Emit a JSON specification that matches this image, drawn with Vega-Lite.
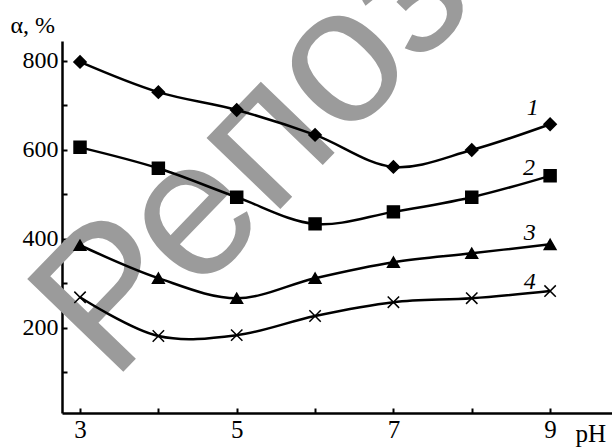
{
  "$schema": "https://vega.github.io/schema/vega-lite/v6.json",
  "width": 550,
  "height": 372,
  "autosize": {"type": "none"},
  "padding": {"left": 62, "top": 41, "right": 0, "bottom": 34},
  "background": "white",
  "config": {"view": {"stroke": null}, "font": "Liberation Serif"},
  "datasets": {
    "pts": [
      {"series": "1", "x": 3, "y": 797}, {"series": "1", "x": 4, "y": 729}, {"series": "1", "x": 5, "y": 689},
      {"series": "1", "x": 6, "y": 633}, {"series": "1", "x": 7, "y": 561}, {"series": "1", "x": 8, "y": 599},
      {"series": "1", "x": 9, "y": 657},
      {"series": "2", "x": 3, "y": 605}, {"series": "2", "x": 4, "y": 558}, {"series": "2", "x": 5, "y": 493},
      {"series": "2", "x": 6, "y": 433}, {"series": "2", "x": 7, "y": 460}, {"series": "2", "x": 8, "y": 493},
      {"series": "2", "x": 9, "y": 541},
      {"series": "3", "x": 3, "y": 385}, {"series": "3", "x": 4, "y": 311}, {"series": "3", "x": 5, "y": 266},
      {"series": "3", "x": 6, "y": 311}, {"series": "3", "x": 7, "y": 347}, {"series": "3", "x": 8, "y": 367},
      {"series": "3", "x": 9, "y": 387},
      {"series": "4", "x": 3, "y": 268}, {"series": "4", "x": 4, "y": 181}, {"series": "4", "x": 5, "y": 183},
      {"series": "4", "x": 6, "y": 226}, {"series": "4", "x": 7, "y": 257}, {"series": "4", "x": 8, "y": 266},
      {"series": "4", "x": 9, "y": 282}
    ],
    "labels": [
      {"lab": "1", "x": 8.78, "y": 693},
      {"lab": "2", "x": 8.73, "y": 558},
      {"lab": "3", "x": 8.74, "y": 412},
      {"lab": "4", "x": 8.74, "y": 302}
    ],
    "wm": [{"t": "Репозиторий", "x": 3.41, "y": 75}]
  },
  "encoding": {
    "x": {
      "field": "x", "type": "quantitative",
      "scale": {"domain": [2.77, 9.79], "nice": false, "zero": false},
      "axis": {
        "values": [3, 4, 5, 6, 7, 8, 9],
        "labelExpr": "datum.value % 2 == 1 ? datum.label : ''",
        "grid": false, "domainColor": "black", "domainWidth": 2.5,
        "tickColor": "black", "tickWidth": 2, "tickSize": -5,
        "labelFont": "Liberation Serif", "labelFontSize": 25, "labelColor": "black",
        "labelPadding": 9, "labelOverlap": false, "labelFlush": false,
        "title": "pH", "titleFont": "Liberation Serif", "titleFontSize": 25, "titleFontWeight": "normal",
        "titleColor": "black", "titleX": 513, "titleY": 28, "titleAlign": "left", "titleBaseline": "alphabetic"
      }
    },
    "y": {
      "field": "y", "type": "quantitative",
      "scale": {"domain": [8, 844], "nice": false, "zero": false},
      "axis": {
        "values": [100, 200, 300, 400, 500, 600, 700, 800],
        "labelExpr": "datum.value % 200 == 0 ? datum.label : ''",
        "grid": false, "domainColor": "black", "domainWidth": 2.5,
        "tickColor": "black", "tickWidth": 2, "tickSize": -5,
        "labelFont": "Liberation Serif", "labelFontSize": 24, "labelColor": "black",
        "labelPadding": 9, "labelOverlap": false,
        "title": "α, %", "titleFont": "Liberation Serif", "titleFontSize": 24, "titleFontWeight": "normal",
        "titleColor": "black", "titleAngle": 0, "titleX": -52, "titleY": -9, "titleAlign": "left", "titleBaseline": "alphabetic"
      }
    }
  },
  "layer": [
    {
      "data": {"name": "wm"},
      "mark": {"type": "text", "font": "Liberation Sans", "fontSize": 194, "angle": 314, "align": "left", "baseline": "alphabetic", "color": "#9b9b9b"},
      "encoding": {"text": {"field": "t"}}
    },
    {
      "data": {"name": "pts"},
      "mark": {"type": "line", "interpolate": "catmull-rom", "strokeWidth": 2.5, "color": "black"},
      "encoding": {"detail": {"field": "series"}}
    },
    {
      "data": {"name": "pts"},
      "mark": {"type": "point", "filled": true, "color": "black", "stroke": "black", "strokeWidth": 1.5, "opacity": 1},
      "encoding": {
        "shape": {"field": "series", "type": "nominal", "scale": {"domain": ["1", "2", "3", "4"], "range": ["diamond", "square", "triangle-up", "M-1,-1L1,1M-1,1L1,-1"]}, "legend": null},
        "size": {"field": "series", "type": "nominal", "scale": {"domain": ["1", "2", "3", "4"], "range": [150, 130, 150, 140]}, "legend": null}
      }
    },
    {
      "data": {"name": "labels"},
      "mark": {"type": "text", "font": "Liberation Serif", "fontStyle": "italic", "fontSize": 24, "baseline": "middle", "align": "center", "color": "black"},
      "encoding": {"text": {"field": "lab"}}
    }
  ]
}
